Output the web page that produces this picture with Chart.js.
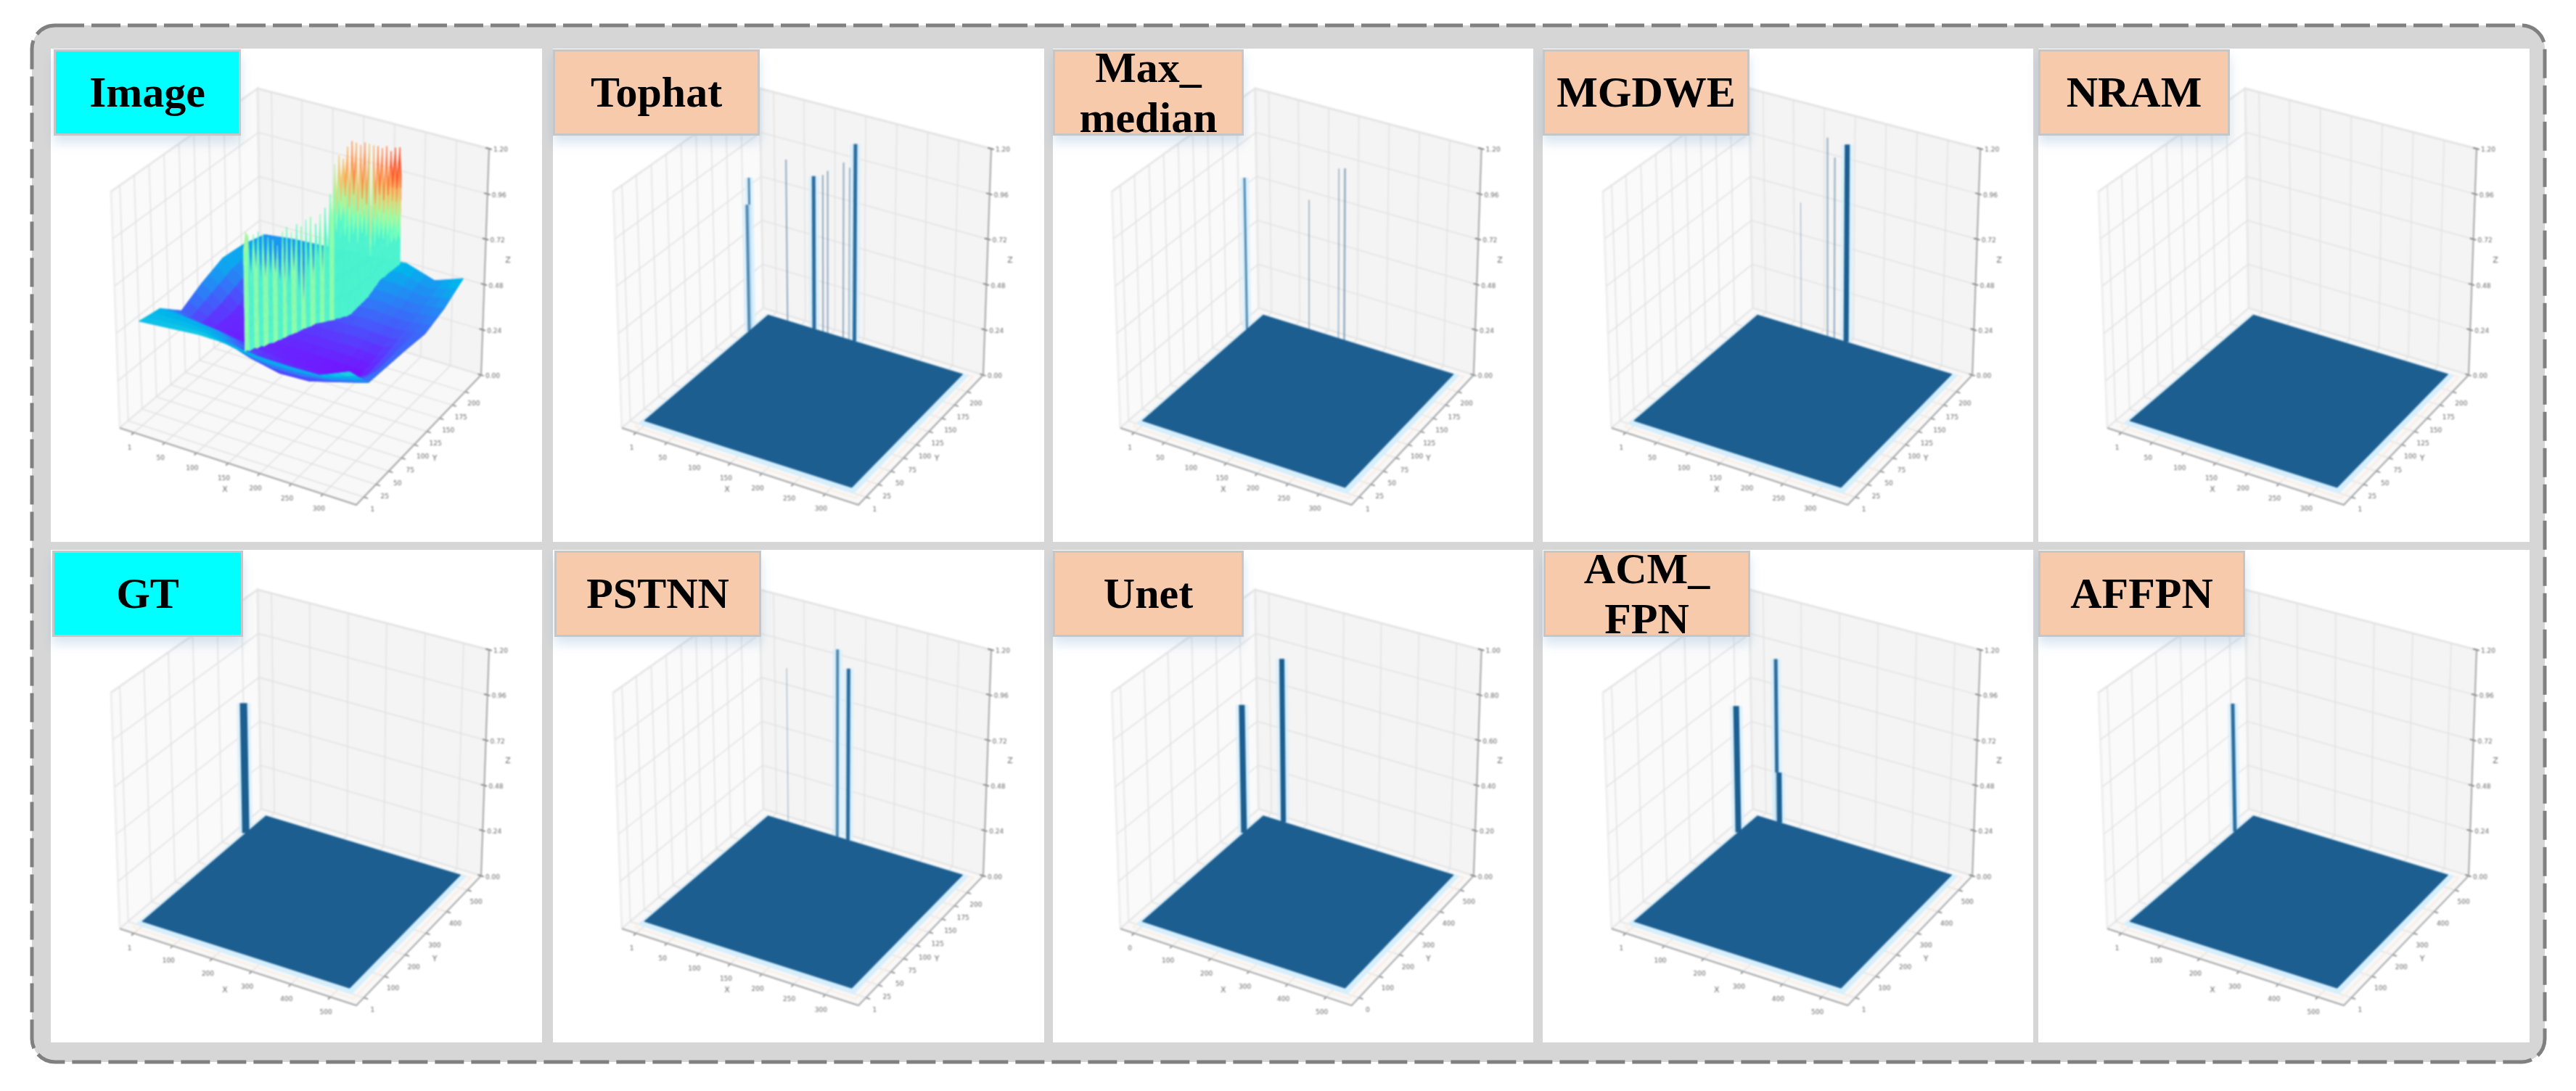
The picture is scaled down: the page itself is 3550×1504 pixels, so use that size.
<!DOCTYPE html>
<html>
<head>
<meta charset="utf-8">
<script src="https://cdn.jsdelivr.net/npm/chart.js"></script>
<style>
    html, body { margin: 0; padding: 0; background: #fff; width: 3550px; height: 1504px; overflow: hidden; }
    svg.frame { position: absolute; left: 0; top: 0; }
    .panel { position: absolute; background: #fff; }
    .panel canvas { position: absolute; left: 0; top: 0; filter: blur(1.2px); }
    .title {
        position: absolute; box-sizing: border-box; height: 119px;
        border: 3px solid #c6c6c6; color: #000; text-align: center;
        font: bold 60px "Liberation Serif", serif; line-height: 113px;
        box-shadow: 0 10px 14px rgba(120, 165, 210, 0.28); white-space: pre;
    }
    .title.two { line-height: 69px; }
    .title.two span { position: relative; top: -12px; }
    .title.input { background: #00ffff; }
    .title.method { background: #f7caac; }
</style>
</head>
<body>
<svg class="frame" width="3550" height="1504">
    <rect x="44" y="35" width="3463" height="1429" rx="32" fill="#d6d6d6" stroke="#808080" stroke-width="5" stroke-dasharray="40 10"/>
</svg>
<script>
// tick labels
const xTicksSmall = [1, 50, 100, 150, 200, 250, 300];
const yTicksSmall = [1, 25, 50, 75, 100, 125, 150, 175, 200];
const xTicksLarge = [1, 100, 200, 300, 400, 500];
const yTicksLarge = [1, 100, 200, 300, 400, 500];
const xTicksUnet = [0, 100, 200, 300, 400, 500];
const zTicksTall = [0, 0.24, 0.48, 0.72, 0.96, 1.2];
const zTicksUnit = [0, 0.2, 0.4, 0.6, 0.8, 1.0];

// spikes above the flat surface: [x, y, z, footprint]
const tophatSpikes = [[1, 188, 0.84, 3], [1, 184, 0.70, 4], [34, 217, 0.90, 2], [79, 217, 0.85, 5], [94, 217, 0.87, 2], [102, 217, 0.90, 2], [128, 217, 0.97, 2], [138, 217, 0.95, 2], [147, 217, 1.09, 5]];
const maxMedianSpikes = [[1, 188, 0.84, 3], [81, 217, 0.72, 1.5], [131, 217, 0.94, 1.5], [141, 217, 0.95, 2.5]];
const mgdweSpikes = [[75, 217, 0.70, 1], [119, 217, 1.10, 2], [131, 217, 1.00, 2], [151, 217, 1.09, 7]];
const nramSpikes = [];
const gtSpikes = [[1, 444, 0.72, 10]];
const pstnnSpikes = [[35, 217, 0.86, 1], [118, 217, 1.04, 4], [136, 217, 0.95, 5]];
const unetSpikes = [[1, 446, 0.59, 8], [57, 530, 0.76, 7]];
const acmFpnSpikes = [[1, 448, 0.70, 8], [55, 530, 0.91, 5], [61, 530, 0.28, 7]];
const affpnSpikes = [[1, 451, 0.71, 5]];

// "Image" panel: low surface, rows go front to back
const imageColsX = [1, 48, 95, 142, 189, 236, 283, 330];
const imageRowsY = [1, 37, 73, 109, 145, 181, 217];
const imageHeights = [
    [0.52, 0.53, 0.54, 0.535, 0.515, 0.51, 0.51, 0.57],
    [0.50, 0.49, 0.47, 0.38, 0.345, 0.35, 0.39, 0.43],
    [0.40, 0.34, 0.33, 0.335, 0.33, 0.32, 0.315, 0.425],
    [0.46, 0.34, 0.34, 0.35, 0.35, 0.355, 0.34, 0.42],
    [0.505, 0.38, 0.38, 0.39, 0.39, 0.40, 0.39, 0.41],
    [0.49, 0.43, 0.43, 0.44, 0.44, 0.45, 0.43, 0.45],
    [0.45, 0.47, 0.48, 0.49, 0.50, 0.515, 0.465, 0.52]
];

// "Image" panel: the jagged wall, one entry per column
const imageWallX = [80, 81, 82, 83, 84, 85, 86, 87, 88, 89, 90, 91, 92, 93, 94, 95, 96, 96, 97, 98, 99, 100, 101, 102, 103, 104, 105, 106, 107, 108, 109, 110, 111, 112, 113, 114, 115, 116, 117,
    120, 124, 127, 131, 134, 138, 141, 145, 148, 152, 155, 159, 162, 166, 169, 173, 176, 180, 183, 187, 190, 194, 197, 201, 204, 208, 211, 215, 218, 222, 225];
const imageWallY = [97, 100, 103, 106, 110, 113, 116, 119, 122, 125, 129, 132, 135, 138, 141, 144, 148, 151, 154, 157, 160, 163, 167, 170, 173, 176, 179, 182, 185, 189, 192, 195, 198, 201, 204, 208, 211, 214, 217,
    217, 217, 217, 217, 217, 217, 217, 217, 217, 217, 217, 217, 217, 217, 217, 217, 217, 217, 217, 217, 217, 217, 217, 217, 217, 217, 217, 217, 217, 217, 217];
const imageWallTop = [0.742, 0.828, 0.802, 0.58, 0.795, 0.60, 0.798, 0.539, 0.773, 0.53, 0.739, 0.527, 0.714, 0.52, 0.670, 0.456, 0.729, 0.43, 0.742, 0.41, 0.698, 0.47, 0.729, 0.317, 0.704, 0.23, 0.726, 0.41, 0.729, 0.364, 0.676, 0.47, 0.717, 0.372, 0.738, 0.48, 0.798, 0.66, 0.950,
    0.777, 1.005, 0.86, 0.994, 0.90, 1.067, 0.836, 1.103, 0.92, 1.101, 0.816, 1.095, 0.90, 1.116, 0.866, 1.114, 0.65, 1.112, 0.87, 1.114, 0.93, 1.109, 0.896, 1.126, 0.93, 1.105, 0.985, 1.131, 0.98, 1.139, 0.99];
const imageWallBase = [0.20, 0.20, 0.19, 0.19, 0.19, 0.18, 0.18, 0.18, 0.17, 0.17, 0.17, 0.165, 0.16, 0.16, 0.16, 0.155, 0.155, 0.15, 0.15, 0.15, 0.146, 0.145, 0.14, 0.14, 0.14, 0.14, 0.135, 0.135, 0.13, 0.13, 0.13, 0.125, 0.12, 0.115, 0.11, 0.105, 0.10, 0.095, 0.09,
    0.10, 0.105, 0.11, 0.12, 0.125, 0.13, 0.14, 0.15, 0.165, 0.18, 0.195, 0.21, 0.225, 0.24, 0.255, 0.27, 0.29, 0.31, 0.33, 0.35, 0.37, 0.39, 0.40, 0.41, 0.425, 0.44, 0.45, 0.465, 0.475, 0.49, 0.50];

// page layout
const columnEdges = [[70, 747], [762, 1439], [1451, 2113], [2126, 2802], [2809, 3486]];
const rowEdges = [[67, 747], [758, 1437]];
const PLOT_W = 677, PLOT_H = 680;

// corners of the 3D box inside a panel
const BOX = {
    lb: [95, 523], fb: [421, 629], rb: [593, 450], bb: [290, 358],
    lt: [83, 197], ft: [421, 279], rt: [604, 138], bt: [285, 55]
};

const small = { xTicks: xTicksSmall, yTicks: yTicksSmall, zTicks: zTicksTall, xMax: 330, yMax: 217 };
const large = { xTicks: xTicksLarge, yTicks: yTicksLarge, zTicks: zTicksTall, xMax: 530, yMax: 530 };
const unet = { xTicks: xTicksUnet, yTicks: xTicksUnet, zTicks: zTicksUnit, xMax: 530, yMax: 530 };

const panels = [
    { title: 'Image', kind: 'input', col: 0, row: 0, boxLeft: 4, boxWidth: 258, axes: small, spikes: null },
    { title: 'Tophat', kind: 'method', col: 1, row: 0, boxLeft: 0, boxWidth: 285, axes: small, spikes: tophatSpikes },
    { title: 'Max_\nmedian', kind: 'method', col: 2, row: 0, boxLeft: 0, boxWidth: 263, axes: small, spikes: maxMedianSpikes },
    { title: 'MGDWE', kind: 'method', col: 3, row: 0, boxLeft: 0, boxWidth: 285, axes: small, spikes: mgdweSpikes },
    { title: 'NRAM', kind: 'method', col: 4, row: 0, boxLeft: 0, boxWidth: 264, axes: small, spikes: nramSpikes },
    { title: 'GT', kind: 'input', col: 0, row: 1, boxLeft: 2, boxWidth: 263, axes: large, spikes: gtSpikes },
    { title: 'PSTNN', kind: 'method', col: 1, row: 1, boxLeft: 2, boxWidth: 285, axes: small, spikes: pstnnSpikes },
    { title: 'Unet', kind: 'method', col: 2, row: 1, boxLeft: 0, boxWidth: 263, axes: unet, spikes: unetSpikes },
    { title: 'ACM_\nFPN', kind: 'method', col: 3, row: 1, boxLeft: 1, boxWidth: 285, axes: large, spikes: acmFpnSpikes },
    { title: 'AFFPN', kind: 'method', col: 4, row: 1, boxLeft: 0, boxWidth: 285, axes: large, spikes: affpnSpikes }
];

// trilinear position in the box, u runs left to front, v front to back, w up
function cube(u, v, w) {
    const out = [0, 1].map(k => {
        const low = BOX.lb[k] * (1 - u) * (1 - v) + BOX.fb[k] * u * (1 - v) + BOX.rb[k] * u * v + BOX.bb[k] * (1 - u) * v;
        const high = BOX.lt[k] * (1 - u) * (1 - v) + BOX.ft[k] * u * (1 - v) + BOX.rt[k] * u * v + BOX.bt[k] * (1 - u) * v;
        return low * (1 - w) + high * w;
    });
    return { x: out[0], y: out[1] };
}

function uOf(x, axes) { return 0.06 + 0.88 * (Math.max(x, 1) - 1) / (axes.xMax - 1); }
function vOf(y, axes) { return 0.06 + 0.88 * (Math.max(y, 1) - 1) / (axes.yMax - 1); }
function wOf(z, axes) { return z / axes.zTicks[axes.zTicks.length - 1]; }
function point(x, y, z, axes) { return cube(uOf(x, axes), vOf(y, axes), 0.02 + 0.97 * wOf(z, axes)); }

function lineSet(points, color, width) {
    return { data: points, showLine: true, borderColor: color, borderWidth: width, pointRadius: 0, fill: false, tension: 0 };
}

function polySet(points, color, edge, edgeWidth) {
    return {
        data: points.concat([points[0]]), showLine: true, fill: 'shape', backgroundColor: color,
        borderColor: edge || color, borderWidth: edgeWidth === undefined ? 1 : edgeWidth, pointRadius: 0, tension: 0
    };
}

// same colour ramp as matplotlib "rainbow"
function rainbow(z) {
    const t = Math.min(1, Math.max(0, (z - 0.3) / 0.8));
    const r = Math.abs(2 * t - 0.5), g = Math.sin(Math.PI * t), b = Math.cos(Math.PI * t / 2);
    return `rgb(${Math.round(Math.min(1, r) * 255)},${Math.round(g * 255)},${Math.round(b * 255)})`;
}

// walls, floor, grid and axis lines
function boxSets(axes) {
    const sets = [];
    sets.push(polySet([cube(0, 0, 0), cube(0, 1, 0), cube(0, 1, 1), cube(0, 0, 1)], '#fafafa', '#eeeeee', 3));
    sets.push(polySet([cube(0, 1, 0), cube(1, 1, 0), cube(1, 1, 1), cube(0, 1, 1)], '#f4f4f4', '#e8e8e8', 3));
    sets.push(polySet([cube(0, 0, 0), cube(1, 0, 0), cube(1, 1, 0), cube(0, 1, 0)], '#f8f8f8', '#f0f0f0', 1));
    const grid = '#e2e2e2';
    axes.xTicks.forEach(t => {
        const u = uOf(t, axes);
        sets.push(lineSet([cube(u, 0, 0), cube(u, 1, 0), cube(u, 1, 1)], grid, 1.5));
        sets.push(lineSet([cube(u, 0, 0), cube(u, -0.018, 0)], '#777777', 1.5));
    });
    axes.yTicks.forEach(t => {
        const v = vOf(t, axes);
        sets.push(lineSet([cube(1, v, 0), cube(0, v, 0), cube(0, v, 1)], grid, 1.5));
        sets.push(lineSet([cube(1, v, 0), cube(1.018, v, 0)], '#777777', 1.5));
    });
    axes.zTicks.forEach(t => {
        const w = wOf(t, axes);
        sets.push(lineSet([cube(0, 0, w), cube(0, 1, w), cube(1, 1, w)], grid, 1.5));
        sets.push(lineSet([cube(0.985, 1, w), cube(1.012, 1, w)], '#666666', 1.5));
    });
    sets.push(lineSet([cube(0, 0, 0), cube(1, 0, 0), cube(1, 1, 0)], '#a6a6a6', 2));
    sets.push(lineSet([cube(1, 1, 0), cube(1, 1, 1)], '#9a9a9a', 1.5));
    return sets;
}

// flat dark surface with the pale rim around it, spikes sit behind it
function flatSets(spikes, axes) {
    const sets = [];
    sets.push(polySet([cube(0.035, 0.035, 0), cube(0.97, 0.035, 0), cube(0.97, 0.97, 0), cube(0.035, 0.97, 0)], 'rgba(255,255,255,0)', '#fbece0', 2));
    sets.push(polySet([cube(0.045, 0.045, 0.01), cube(0.955, 0.045, 0.01), cube(0.955, 0.955, 0.01), cube(0.045, 0.955, 0.01)], '#d6effd', '#d6effd', 2));
    spikes.forEach(s => {
        const base = point(s[0], s[1], 0, axes), top = point(s[0], s[1], s[2], axes);
        const color = s[3] >= 5 ? '#2a6c9e' : s[3] >= 3 ? '#4f88b0' : 'rgba(90,130,165,0.65)';
        if (s[3] >= 3) sets.push(lineSet([base, top], 'rgba(214,239,253,0.8)', s[3] + 9));
        sets.push(lineSet([base, top], s[3] >= 7 ? '#1b5e8f' : color, s[3]));
    });
    sets.push(polySet([point(1, 1, 0, axes), point(axes.xMax, 1, 0, axes), point(axes.xMax, axes.yMax, 0, axes), point(1, axes.yMax, 0, axes)], '#1c5e90', '#1c5e90', 1));
    return sets;
}

// the "Image" surface, each grid cell is cut in three each way so the colours run smooth
function imageSets(axes) {
    const sets = [];
    const cuts = 3;
    const at = (r, c, a, b) => {
        const z0 = imageHeights[r][c] * (1 - a) + imageHeights[r][c + 1] * a;
        const z1 = imageHeights[r + 1][c] * (1 - a) + imageHeights[r + 1][c + 1] * a;
        return {
            x: imageColsX[c] * (1 - a) + imageColsX[c + 1] * a,
            y: imageRowsY[r] * (1 - b) + imageRowsY[r + 1] * b,
            z: z0 * (1 - b) + z1 * b
        };
    };
    for (let r = imageRowsY.length - 2; r >= 0; r--) {
        for (let bi = cuts - 1; bi >= 0; bi--) {
            for (let c = 0; c < imageColsX.length - 1; c++) {
                for (let ai = 0; ai < cuts; ai++) {
                    const q = [at(r, c, ai / cuts, bi / cuts), at(r, c, (ai + 1) / cuts, bi / cuts), at(r, c, (ai + 1) / cuts, (bi + 1) / cuts), at(r, c, ai / cuts, (bi + 1) / cuts)];
                    const mean = q.reduce((sum, p) => sum + p.z, 0) / 4;
                    sets.push(polySet(q.map(p => point(p.x, p.y, p.z, axes)), rainbow(mean)));
                }
            }
        }
    }
    // wall, coloured per band: lime stripes on the low left part, turquoise under the tall right part
    const bands = 7;
    for (let i = 0; i < imageWallTop.length - 1; i++) {
        const floorColor = i < 38 ? (i % 4 < 2 ? 0.72 : 0.63) : 0.62;
        for (let k = 0; k < bands; k++) {
            const z = (j, t) => imageWallBase[j] + (imageWallTop[j] - imageWallBase[j]) * t;
            const t0 = k / bands, t1 = (k + 1) / bands;
            const mean = (z(i, t0) + z(i + 1, t0) + z(i, t1) + z(i + 1, t1)) / 4;
            const color = rainbow(Math.max(mean, floorColor));
            sets.push(polySet([
                point(imageWallX[i], imageWallY[i], z(i, t0), axes),
                point(imageWallX[i + 1], imageWallY[i + 1], z(i + 1, t0), axes),
                point(imageWallX[i + 1], imageWallY[i + 1], z(i + 1, t1), axes),
                point(imageWallX[i], imageWallY[i], z(i, t1), axes)
            ], color, color, 0.5));
        }
    }
    return sets;
}

// tick labels sit on the slanted axes, so they are written through the chart's scales
function axisText(axes) {
    return {
        id: 'axisText',
        afterDatasetsDraw(chart) {
            const { ctx, scales } = chart;
            const write = (p, dx, dy, text, size) => {
                ctx.font = `${size}px "DejaVu Sans"`;
                ctx.fillText(text, scales.x.getPixelForValue(p.x) + dx, scales.y.getPixelForValue(p.y) + dy);
            };
            ctx.save();
            ctx.fillStyle = '#666666';
            ctx.textAlign = 'center';
            ctx.textBaseline = 'middle';
            axes.xTicks.forEach(t => write(cube(uOf(t, axes), 0, 0), -6, 21, String(t), 9));
            axes.yTicks.forEach(t => write(cube(1, vOf(t, axes), 0), 12, 17, String(t), 9));
            axes.zTicks.forEach(t => write(cube(1, 1, wOf(t, axes)), 16, 2, t.toFixed(2), 9));
            write({ x: 240, y: 608 }, 0, 0, 'X', 11);
            write({ x: 529, y: 565 }, 0, 0, 'Y', 11);
            write({ x: 630, y: 292 }, 0, 0, 'Z', 11);
            ctx.restore();
        }
    };
}

panels.forEach(p => {
    const [left, right] = columnEdges[p.col];
    const [top, bottom] = rowEdges[p.row];
    const div = document.createElement('div');
    div.className = 'panel';
    div.style.cssText = `left:${left}px;top:${top}px;width:${right - left}px;height:${bottom - top}px`;
    const canvas = document.createElement('canvas');
    canvas.width = right - left;
    canvas.height = bottom - top;
    canvas.style.width = (right - left) + 'px';
    canvas.style.height = (bottom - top) + 'px';
    div.appendChild(canvas);
    const label = document.createElement('div');
    label.className = 'title ' + p.kind + (p.title.includes('\n') ? ' two' : '');
    label.style.cssText = `left:${p.boxLeft}px;top:1px;width:${p.boxWidth}px`;
    const text = document.createElement('span');
    text.textContent = p.title;
    label.appendChild(text);
    div.appendChild(label);
    document.body.appendChild(div);

    const sets = boxSets(p.axes).concat(p.spikes ? flatSets(p.spikes, p.axes) : imageSets(p.axes));
    new Chart(canvas, {
        type: 'scatter',
        // Chart.js paints the first dataset last
        data: { datasets: sets.reverse() },
        options: {
            responsive: false,
            animation: false,
            events: [],
            layout: { padding: 0 },
            plugins: { legend: { display: false }, tooltip: { enabled: false } },
            scales: {
                x: { type: 'linear', display: false, min: 0, max: PLOT_W },
                y: { type: 'linear', display: false, min: 0, max: PLOT_H, reverse: true }
            }
        },
        plugins: [axisText(p.axes)]
    });
});
</script>
</body>
</html>
